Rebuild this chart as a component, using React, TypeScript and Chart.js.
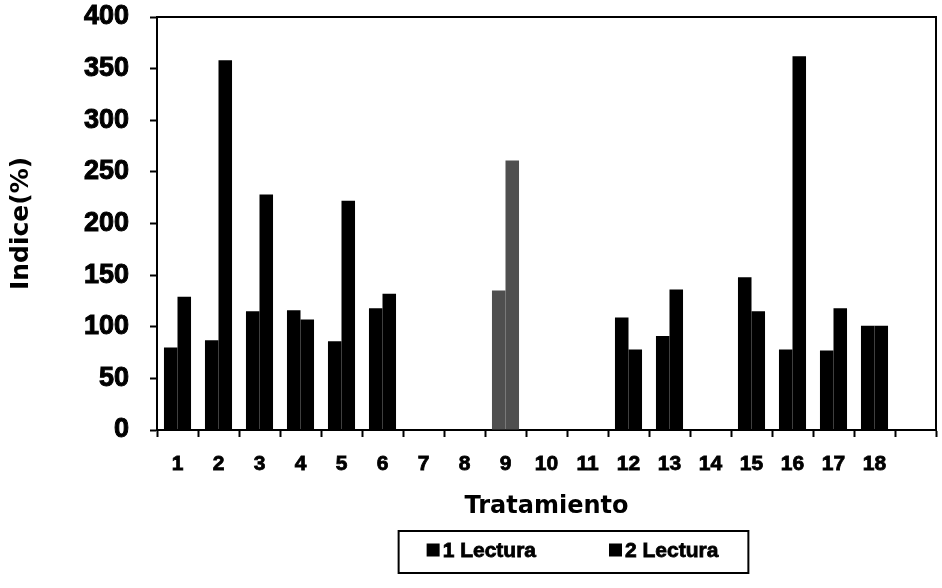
import { useEffect, useRef } from 'react';
import { Chart, registerables } from 'chart.js';

Chart.register(...registerables);

// Treatments 1–18, plus one empty slot at the right end of the axis
const categories = ['1', '2', '3', '4', '5', '6', '7', '8', '9', '10', '11', '12', '13', '14', '15', '16', '17', '18', ''];
const lectura1 = [80, 87, 115, 116, 86, 118, null, null, 135, null, null, 109, 91, null, 148, 78, 77, 101, null];
const lectura2 = [129, 358, 228, 107, 222, 132, null, null, 261, null, null, 78, 136, null, 115, 362, 118, 101, null];
const seriesLabels = ['1 Lectura', '2 Lectura'];
const highlighted = ['9'];
const yMax = 400;
const yStep = 50;

const BLACK = '#000000';
const GREY = '#4f4f4f';
const colorsFor = () => categories.map((c) => (highlighted.includes(c) ? GREY : BLACK));

const boxFont = '21px "Liberation Sans", Arial, sans-serif';

// Top/right frame of the plot area
const framePlugin = {
  id: 'frame',
  afterDraw(chart: any) {
    const { ctx, chartArea } = chart;
    ctx.save();
    ctx.strokeStyle = BLACK;
    ctx.lineWidth = 2;
    ctx.beginPath();
    ctx.moveTo(chartArea.left, chartArea.top);
    ctx.lineTo(chartArea.right, chartArea.top);
    ctx.lineTo(chartArea.right, chartArea.bottom);
    ctx.stroke();
    ctx.restore();
  },
};

// Boxed legend below the axis title
const boxedLegendPlugin = {
  id: 'boxedLegend',
  afterDraw(chart: any) {
    const { ctx, chartArea } = chart;
    const sq = 13;
    const gapText = 3;
    const gapItem = 73;
    ctx.save();
    ctx.font = 'bold ' + boxFont;
    const items = chart.data.datasets.map((ds: any) => ({
      label: ds.label as string,
      w: ctx.measureText(ds.label).width,
    }));
    const total = items.reduce((s: number, it: any) => s + sq + gapText + it.w, 0) + gapItem * (items.length - 1);
    const cx = (chartArea.left + chartArea.right) / 2 + 26;
    const cy = 551;
    let x = cx - total / 2;
    const padL = 28;
    const padR = 30;
    ctx.strokeStyle = BLACK;
    ctx.lineWidth = 2;
    ctx.strokeRect(x - padL, cy - 20, total + padL + padR, 42);
    ctx.fillStyle = BLACK;
    ctx.textBaseline = 'middle';
    ctx.textAlign = 'left';
    ctx.lineWidth = 0.8;
    items.forEach((it: any) => {
      ctx.fillRect(x, cy - sq / 2 - 1, sq, sq);
      x += sq + gapText;
      ctx.fillText(it.label, x, cy);
      ctx.strokeText(it.label, x, cy);
      x += it.w + gapItem;
    });
    ctx.restore();
  },
};

export default function App() {
  const canvasRef = useRef<HTMLCanvasElement | null>(null);

  useEffect(() => {
    document.body.style.margin = '0';
    const canvas = canvasRef.current;
    if (!canvas) return;
    const chart = new Chart(canvas, {
      type: 'bar',
      data: {
        labels: categories,
        datasets: [
          {
            label: seriesLabels[0],
            data: lectura1,
            backgroundColor: colorsFor(),
            borderWidth: 0,
            categoryPercentage: 0.66,
            barPercentage: 1.0,
          },
          {
            label: seriesLabels[1],
            data: lectura2,
            backgroundColor: colorsFor(),
            borderWidth: 0,
            categoryPercentage: 0.66,
            barPercentage: 1.0,
          },
        ],
      },
      options: {
        responsive: false,
        animation: false,
        maintainAspectRatio: false,
        layout: { padding: { top: 17, right: 6, bottom: 65, left: 0 } },
        plugins: {
          legend: { display: false },
          tooltip: { enabled: false },
          title: { display: false },
        },
        scales: {
          x: {
            grid: {
              display: true,
              drawOnChartArea: false,
              drawTicks: true,
              tickLength: 7,
              tickWidth: 2,
              color: BLACK,
              offset: true,
            },
            border: { display: true, color: BLACK, width: 2 },
            ticks: {
              color: BLACK,
              padding: 15,
              maxRotation: 0,
              autoSkip: false,
              textStrokeColor: BLACK,
              textStrokeWidth: 0.8,
              font: { family: '"Liberation Sans", Arial, sans-serif', size: 21, weight: 'bold' },
            },
            title: {
              display: true,
              text: 'Tratamiento',
              color: BLACK,
              padding: { top: 12, bottom: 2 },
              font: { family: '"DejaVu Sans", sans-serif', size: 24, weight: 'bold' },
            },
            afterFit: (scale: any) => {
              scale.height = 93;
              scale.paddingRight = 0;
            },
          },
          y: {
            min: 0,
            max: yMax,
            grid: {
              display: true,
              drawOnChartArea: false,
              drawTicks: true,
              tickLength: 7,
              tickWidth: 2,
              color: BLACK,
            },
            border: { display: true, color: BLACK, width: 2 },
            ticks: {
              stepSize: yStep,
              color: BLACK,
              padding: 21,
              textStrokeColor: BLACK,
              textStrokeWidth: 1,
              font: { family: '"Liberation Sans", Arial, sans-serif', size: 27, weight: 'bold' },
            },
            title: {
              display: true,
              text: 'Indice(%)',
              color: BLACK,
              padding: { top: 6, bottom: 0 },
              font: { family: '"DejaVu Sans", sans-serif', size: 25, weight: 'bold' },
            },
            afterFit: (scale: any) => {
              scale.width = 157;
              scale.paddingTop = 0;
              scale.paddingBottom = 0;
            },
          },
        },
      } as any,
      plugins: [framePlugin, boxedLegendPlugin],
    });
    return () => chart.destroy();
  }, []);

  return <canvas ref={canvasRef} width={942} height={588} style={{ display: 'block' }} />;
}
